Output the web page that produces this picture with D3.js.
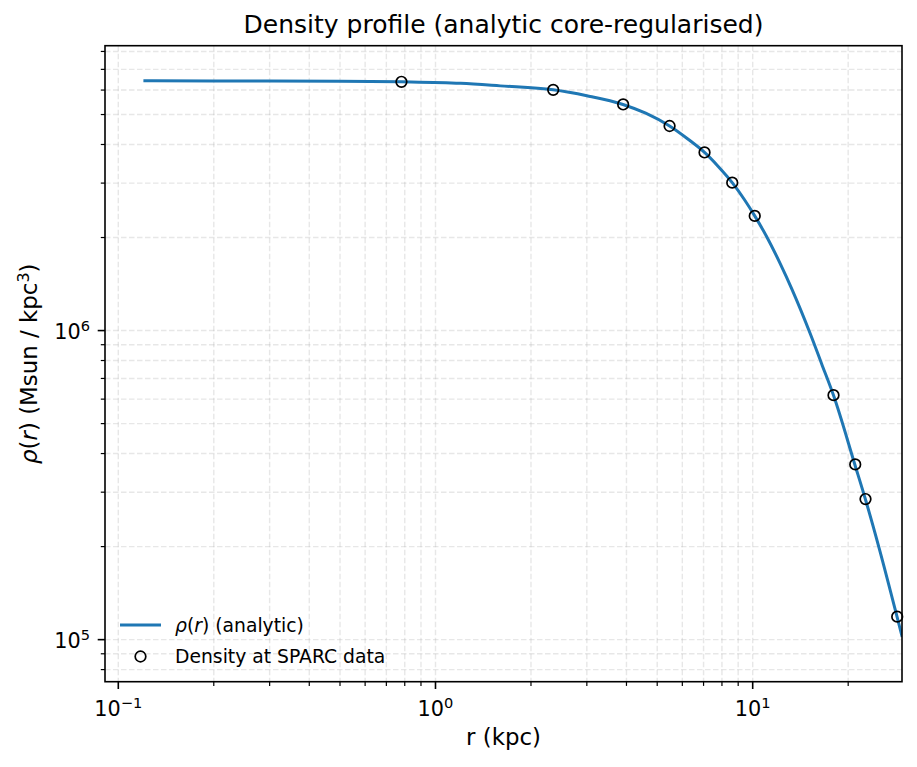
<!DOCTYPE html>
<html>
<head>
<meta charset="utf-8">
<script src="https://cdn.jsdelivr.net/npm/d3@7"></script>
<style>
  body { margin: 0; background: #fff; }
  svg text { font-family: "DejaVu Sans", sans-serif; fill: #000; }
</style>
</head>
<body>
<div id="chart"></div>
<script>
// analytic curve
var curveR = [0.12, 0.2, 0.3, 0.5, 0.78, 1.2, 1.6, 2.35, 3.0, 3.9, 4.6, 5.47, 6.2, 7.05,
  7.8, 8.62, 9.4, 10.15, 11.05, 12.2, 13.3, 15.2, 16.5, 18.0, 21.0, 22.7, 25.0, 28.55, 29.6];
var curveRho = [6.43e6, 6.425e6, 6.42e6, 6.405e6, 6.38e6, 6.31e6, 6.19e6, 6.01e6, 5.75e6, 5.39e6,
  5.05e6, 4.59e6, 4.19e6, 3.77e6, 3.39e6, 3.01e6, 2.66e6, 2.35e6, 2.02e6, 1.65e6, 1.36e6,
  9.75e5, 7.8e5, 6.15e5, 3.68e5, 2.83e5, 1.99e5, 1.18e5, 1.02e5];

// SPARC sample points
var sparcR = [0.781, 2.35, 3.905, 5.47, 7.05, 8.62, 10.15, 17.98, 21.05, 22.68, 28.55];
var sparcRho = [6.38e6, 6.01e6, 5.39e6, 4.59e6, 3.77e6, 3.01e6, 2.35e6, 6.18e5, 3.69e5, 2.85e5, 1.187e5];

var xDomain = [0.0908, 29.56];
var yDomain = [7.31e4, 8.35e6];

var width = 917,
  height = 767;
var margin = { top: 45.7, right: 15, bottom: 85.3, left: 105 };
var plotW = width - margin.left - margin.right,
  plotH = height - margin.top - margin.bottom;

var svg = d3
  .select("#chart")
  .append("svg")
  .attr("width", width)
  .attr("height", height);

var x = d3.scaleLog().domain(xDomain).range([0, plotW]);
var y = d3.scaleLog().domain(yDomain).range([plotH, 0]);

var g = svg
  .append("g")
  .attr("transform", "translate(" + margin.left + "," + margin.top + ")");

svg
  .append("defs")
  .append("clipPath")
  .attr("id", "clip")
  .append("rect")
  .attr("width", plotW)
  .attr("height", plotH);

function isMajor(v) {
  var l = Math.log10(v);
  return Math.abs(l - Math.round(l)) < 1e-9;
}

var xTicks = x.ticks().filter(function(v) {
  return v >= xDomain[0] && v <= xDomain[1];
});
var yTicks = y.ticks().filter(function(v) {
  return v >= yDomain[0] && v <= yDomain[1];
});

// grid (major + minor)
var grid = g.append("g").attr("class", "grid");
grid
  .selectAll(".gx")
  .data(xTicks)
  .enter()
  .append("line")
  .attr("x1", function(d) { return x(d); })
  .attr("x2", function(d) { return x(d); })
  .attr("y1", 0)
  .attr("y2", plotH);
grid
  .selectAll(".gy")
  .data(yTicks)
  .enter()
  .append("line")
  .attr("x1", 0)
  .attr("x2", plotW)
  .attr("y1", function(d) { return y(d); })
  .attr("y2", function(d) { return y(d); });
grid
  .selectAll("line")
  .style("stroke", "#b0b0b0")
  .style("stroke-opacity", 0.3)
  .style("stroke-width", 1.4)
  .style("stroke-dasharray", "5.5,2.5");

// curve
var line = d3
  .line()
  .x(function(d) { return x(d[0]); })
  .y(function(d) { return y(d[1]); })
  .curve(d3.curveMonotoneX);

g.append("path")
  .datum(d3.zip(curveR, curveRho))
  .attr("clip-path", "url(#clip)")
  .attr("d", line)
  .style("fill", "none")
  .style("stroke", "#1f77b4")
  .style("stroke-width", 3);

// data points
g.selectAll(".pt")
  .data(d3.zip(sparcR, sparcRho))
  .enter()
  .append("circle")
  .attr("class", "pt")
  .attr("cx", function(d) { return x(d[0]); })
  .attr("cy", function(d) { return y(d[1]); })
  .attr("r", 5.3)
  .style("fill", "none")
  .style("stroke", "#000")
  .style("stroke-width", 1.7);

// spines
g.append("rect")
  .attr("width", plotW)
  .attr("height", plotH)
  .style("fill", "none")
  .style("stroke", "#000")
  .style("stroke-width", 1.6);

// ticks
var tk = g.append("g").attr("class", "ticks");
tk.selectAll(".tx")
  .data(xTicks)
  .enter()
  .append("line")
  .attr("x1", function(d) { return x(d); })
  .attr("x2", function(d) { return x(d); })
  .attr("y1", plotH)
  .attr("y2", function(d) { return plotH + (isMajor(d) ? 7.3 : 4.2); })
  .style("stroke-width", function(d) { return isMajor(d) ? 1.6 : 1.2; });
tk.selectAll(".ty")
  .data(yTicks)
  .enter()
  .append("line")
  .attr("y1", function(d) { return y(d); })
  .attr("y2", function(d) { return y(d); })
  .attr("x1", 0)
  .attr("x2", function(d) { return isMajor(d) ? -7.3 : -4.2; })
  .style("stroke-width", function(d) { return isMajor(d) ? 1.6 : 1.2; });
tk.selectAll("line").style("stroke", "#000");

function powLabel(sel, v) {
  var e = Math.round(Math.log10(v));
  sel.append("tspan").text("10");
  sel
    .append("tspan")
    .attr("dy", -8)
    .style("font-size", "14.6px")
    .text(e < 0 ? "\u2212" + -e : "" + e);
}

g.selectAll(".xl")
  .data(xTicks.filter(isMajor))
  .enter()
  .append("text")
  .attr("x", function(d) { return x(d); })
  .attr("y", 716 - margin.top)
  .attr("text-anchor", "middle")
  .style("font-size", "20.8px")
  .each(function(d) { powLabel(d3.select(this), d); });

g.selectAll(".yl")
  .data(yTicks.filter(isMajor))
  .enter()
  .append("text")
  .attr("x", -15)
  .attr("y", function(d) { return y(d) + 8.5; })
  .attr("text-anchor", "end")
  .style("font-size", "20.8px")
  .each(function(d) { powLabel(d3.select(this), d); });

// title and axis labels
svg
  .append("text")
  .attr("x", margin.left + plotW / 2)
  .attr("y", 33)
  .attr("text-anchor", "middle")
  .style("font-size", "25px")
  .text("Density profile (analytic core-regularised)");

svg
  .append("text")
  .attr("x", margin.left + plotW / 2)
  .attr("y", 745)
  .attr("text-anchor", "middle")
  .style("font-size", "22.9px")
  .text("r (kpc)");

var ylab = svg
  .append("text")
  .attr("transform", "translate(37," + (margin.top + plotH / 2) + ") rotate(-90)")
  .attr("text-anchor", "middle")
  .style("font-size", "22.9px");
ylab.append("tspan").style("font-style", "italic").text("\u03c1");
ylab.append("tspan").text("(");
ylab.append("tspan").style("font-style", "italic").text("r");
ylab.append("tspan").text(") (Msun / kpc");
ylab.append("tspan").attr("dy", -8).style("font-size", "16px").text("3");
ylab.append("tspan").attr("dy", 8).text(")");

// legend
var leg = svg.append("g").attr("class", "legend");
leg
  .append("line")
  .attr("x1", 120)
  .attr("x2", 161)
  .attr("y1", 625)
  .attr("y2", 625)
  .style("stroke", "#1f77b4")
  .style("stroke-width", 3);
var lt = leg
  .append("text")
  .attr("x", 175)
  .attr("y", 632)
  .style("font-size", "18.75px");
lt.append("tspan").style("font-style", "italic").text("\u03c1");
lt.append("tspan").text("(");
lt.append("tspan").style("font-style", "italic").text("r");
lt.append("tspan").text(") (analytic)");

leg
  .append("circle")
  .attr("cx", 140.5)
  .attr("cy", 656.5)
  .attr("r", 5.3)
  .style("fill", "none")
  .style("stroke", "#000")
  .style("stroke-width", 1.7);
leg
  .append("text")
  .attr("x", 175)
  .attr("y", 663)
  .style("font-size", "18.75px")
  .text("Density at SPARC data");
</script>
</body>
</html>
